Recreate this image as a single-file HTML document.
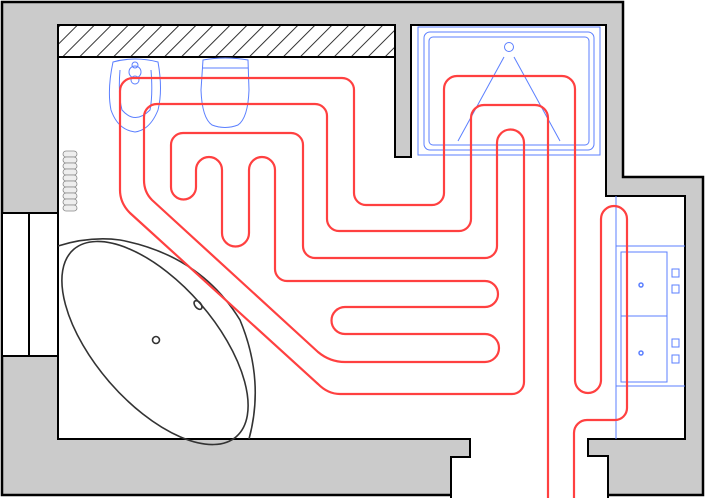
<!DOCTYPE html>
<html><head><meta charset="utf-8"><style>html,body{margin:0;padding:0;background:#fff}svg{display:block}</style></head>
<body>
<svg width="705" height="498" viewBox="0 0 705 498" xmlns="http://www.w3.org/2000/svg">
<defs>
<pattern id="h" width="12" height="12" patternUnits="userSpaceOnUse" patternTransform="rotate(45)">
<line x1="0" y1="0" x2="0" y2="12" stroke="#333" stroke-width="2"/>
</pattern>
</defs>
<polygon points="2,2 623,2 623,177 703,177 703,495 2,495" fill="#cbcbcb"/>
<polygon points="58,25 395,25 395,157 411,157 411,25 606,25 606,196 685,196 685,439 588,439 588,456 608,456 608,502 451,502 451,457 470,457 470,439 58,439" fill="#fff" stroke="#000" stroke-width="2"/>
<polyline points="451,495 2,495 2,2 623,2 623,177 703,177 703,495 608,495" fill="none" stroke="#000" stroke-width="2.5"/>
<rect x="2" y="213" width="56" height="143" fill="#fff" stroke="#000" stroke-width="2"/>
<line x1="29" y1="213" x2="29" y2="356" stroke="#000" stroke-width="2"/>
<rect x="58" y="25" width="337" height="32" fill="url(#h)" stroke="#000" stroke-width="2"/>
<g fill="none" stroke="#5b7fff" stroke-width="1">
<rect x="418" y="27" width="182" height="128"/>
<rect x="424" y="32" width="170" height="118" rx="6"/>
<rect x="429" y="37" width="160" height="108" rx="4"/>
<circle cx="509" cy="47" r="4.5"/>
<line x1="504" y1="57" x2="458" y2="141"/>
<line x1="514" y1="57" x2="560" y2="141"/>
<line x1="616" y1="196" x2="616" y2="439"/>
<line x1="616" y1="246" x2="685" y2="246"/>
<line x1="616" y1="386" x2="685" y2="386"/>
<rect x="621" y="252" width="46" height="130"/>
<line x1="621" y1="316" x2="667" y2="316"/>
<circle cx="641" cy="285" r="2" stroke-width="1.5"/>
<circle cx="641" cy="353" r="2" stroke-width="1.5"/>
<rect x="672" y="269" width="7" height="8"/>
<rect x="672" y="285" width="7" height="8"/>
<rect x="672" y="339" width="7" height="8"/>
<rect x="672" y="355" width="7" height="8"/>
<path d="M113,62 Q135,56 158,62 Q163,90 158,110 Q150,130 135,132 Q118,130 111,110 Q107,90 113,62Z"/>
<path d="M120,70 Q118,95 122,110 Q135,125 150,110 Q153,95 151,70"/>
<circle cx="135" cy="72" r="6"/><circle cx="135" cy="80" r="4"/><circle cx="135" cy="65" r="3"/>
<path d="M203,60 Q225,56 248,60 L249,90 Q248,118 238,125 Q225,130 212,125 Q202,118 201,90 Z"/>
<line x1="202" y1="68" x2="248" y2="68"/>
</g>
<g fill="#eee" stroke="#888" stroke-width="0.8">
<rect x="63" y="151" width="14" height="6" rx="3"/><rect x="63" y="157" width="14" height="6" rx="3"/>
<rect x="63" y="163" width="14" height="6" rx="3"/><rect x="63" y="169" width="14" height="6" rx="3"/>
<rect x="63" y="175" width="14" height="6" rx="3"/><rect x="63" y="181" width="14" height="6" rx="3"/>
<rect x="63" y="187" width="14" height="6" rx="3"/><rect x="63" y="193" width="14" height="6" rx="3"/>
<rect x="63" y="199" width="14" height="6" rx="3"/><rect x="63" y="205" width="14" height="6" rx="3"/>
</g>
<g fill="none" stroke="#333" stroke-width="1.6">
<path d="M58,246 Q90,236 120,240 Q200,255 240,320 Q265,380 249,439"/>
<ellipse cx="155" cy="343" rx="124" ry="60" transform="rotate(49 155 343)"/>
<circle cx="156" cy="340" r="3.5"/>
<ellipse cx="198" cy="305" rx="3" ry="5" transform="rotate(-40 198 305)"/>
</g>
<path fill="none" stroke="#ff4040" stroke-width="2.2" stroke-linejoin="round" d="M548,498 L548,118 A13,13 0 0 0 535,105 L484,105 A13,13 0 0 0 471,118 L471,219 A12,12 0 0 1 459,231 L339,231 A12,12 0 0 1 327,219 L327,116 A12,12 0 0 0 315,104 L157,104 A13,13 0 0 0 144,117 L144,180 Q144,192 152,200 L318,352 Q330,362 345,362 L485,362 A14,14 0 0 0 485,334 L345,334 A13.5,13.5 0 0 1 345,307 L485,307 A13,13 0 0 0 485,281 L287,281 A12,12 0 0 1 275,269 L275,170 A13,13 0 0 0 249,170 L249,233 A13.5,13.5 0 0 1 222,233 L222,170 A13,13 0 0 0 196,170 L196,187 A12.5,12.5 0 0 1 171,187 L171,145 A12,12 0 0 1 183,133 L291,133 A12,12 0 0 1 303,145 L303,246 A12,12 0 0 0 315,258 L485,258 A12,12 0 0 0 497,246 L497,143 A13.5,13.5 0 0 1 524,143 L524,382 A12,12 0 0 1 512,394 L340,394 Q328,394 318,384 L130,213 Q120,203 120,190 L120,91 A13,13 0 0 1 133,78 L342,78 A12,12 0 0 1 354,90 L354,193 A12,12 0 0 0 366,205 L432,205 A12,12 0 0 0 444,193 L444,89 A13,13 0 0 1 457,76 L562,76 A13,13 0 0 1 575,89 L575,380 A13,13 0 0 0 601,380 L601,219 A13,13 0 0 1 627,219 L627,408 A12,12 0 0 1 615,420 L587,420 A13,13 0 0 0 574,433 L574,498"/>
</svg>
</body></html>
